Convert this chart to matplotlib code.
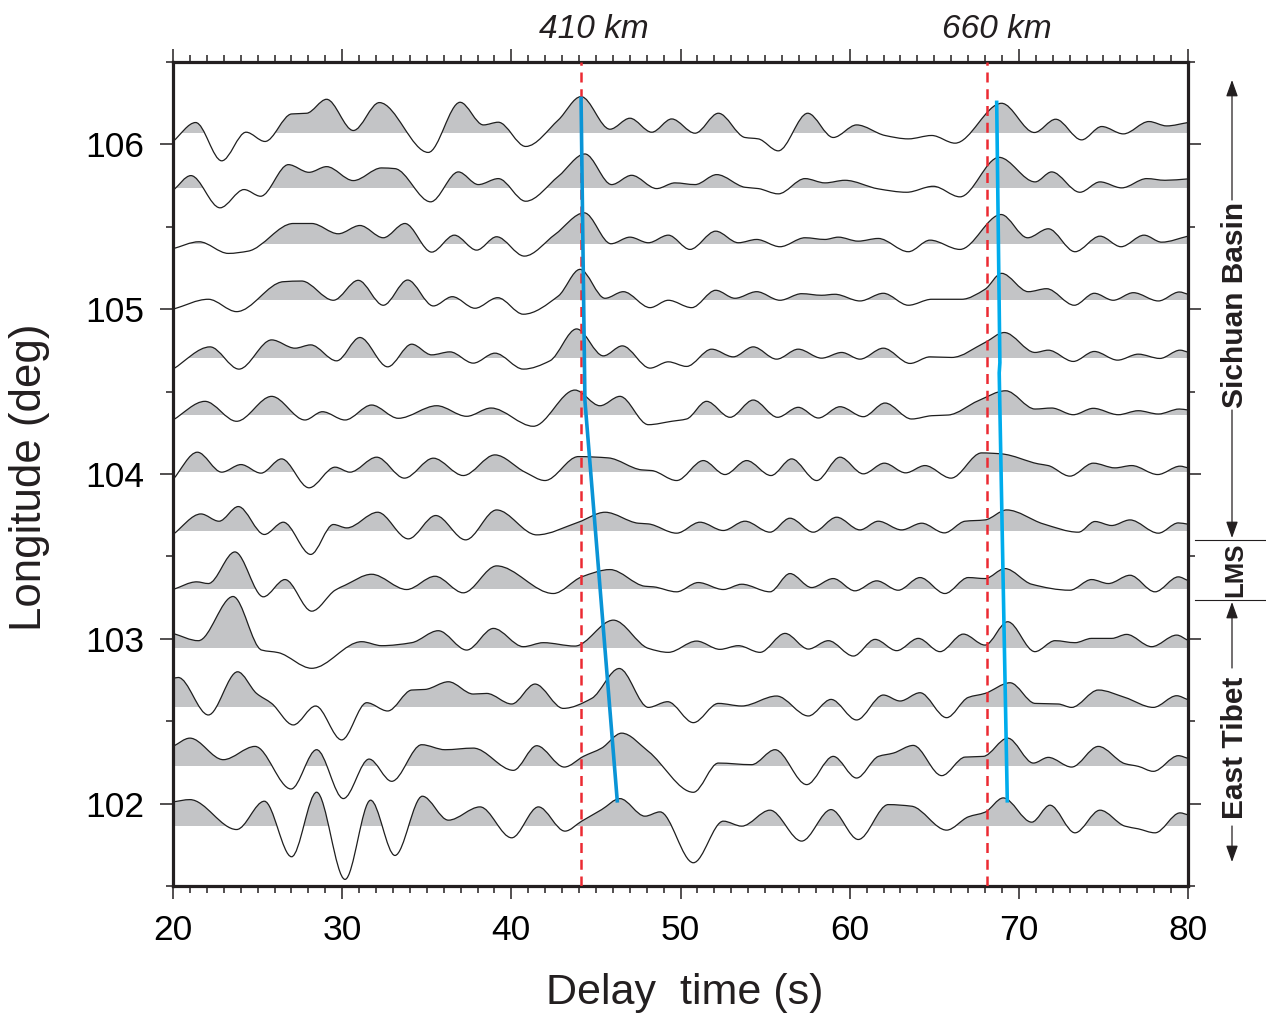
import numpy as np
import matplotlib
matplotlib.use('Agg')
import matplotlib.pyplot as plt
from matplotlib.path import Path
from matplotlib.patches import PathPatch, Rectangle
from matplotlib.lines import Line2D
from matplotlib.ticker import MultipleLocator

plt.rcParams['font.family'] = ['Liberation Sans', 'DejaVu Sans']

# zero line of every trace (longitude, deg), top to bottom
baselines = [106.068, 105.732, 105.393, 105.050, 104.703, 104.358, 104.007,
             103.653, 103.299, 102.942, 102.582, 102.226, 101.859]
amp_scale = 1 / 165.25  # amplitude units -> deg on the y axis

# (delay time s, amplitude) of the turning points
trace_1 = [(20.0, -8.3), (21.34, 10.7), (22.88, -27.7), (24.32, 1), (25.44, -8.3), (27.01, 19.3),
           (27.9, 20), (29.08, 34), (30.66, 2.7), (32.2, 30.7), (35.09, -19.3), (36.97, 31),
           (38.35, 8.3), (39.23, 11), (40.85, -13.3), (42.78, 13.3), (44.12, 36.7), (45.83, 4),
           (47.01, 15), (48.3, 1), (49.48, 14.3), (50.86, 0), (52.24, 20), (53.81, -4.3),
           (54.6, -5.7), (55.78, -17.7), (57.52, 20), (59.03, -4.3), (60.41, 8.3), (62.09, -2.3),
           (63.47, -5.7), (64.85, -2.3), (66.23, -10), (68.98, 30), (70.92, 0.7), (72.18, 14),
           (73.71, -6.7), (74.9, 6.7), (76.18, -0.7), (77.69, 11.7), (78.74, 7.3), (80.0, 10.7)]
trace_2 = [(20.0, -2), (21.06, 13), (22.78, -19.3), (24.2, -1), (25.18, -7.7), (26.82, 24),
           (28.04, 16.3), (29.08, 22), (30.66, 8), (32.33, 20.7), (33.12, 20), (35.23, -13.3),
           (36.87, 16.7), (38.05, 4), (39.23, 10), (40.85, -12.7), (42.78, 12.3), (44.35, 34.7),
           (45.93, 4), (47.11, 13.3), (48.59, 0), (49.67, 5.7), (50.86, 4), (52.14, 14),
           (53.81, 1.3), (54.6, 0), (55.78, -5.3), (57.36, 10), (58.54, 5.7), (59.72, 8.3),
           (61.69, -0.3), (63.37, -3.7), (64.94, 2.3), (66.52, -8.3), (68.83, 31.3), (70.96, 6.7),
           (71.94, 16.7), (73.61, -3.7), (74.8, 6.7), (76.08, 0.7), (77.56, 10), (78.64, 8.3),
           (80.0, 9.7)]
trace_3 = [(20.0, -4.3), (21.54, 2.7), (23.27, -9), (24.45, -6.7), (27.11, 21), (28.2, 21),
           (29.77, 10.7), (31.05, 19), (32.43, 6.7), (33.71, 21), (35.29, -7.7), (36.63, 9.3),
           (37.95, -5.7), (39.13, 7.7), (40.77, -11.7), (42.58, 10), (44.31, 31.7), (45.89, 0.7),
           (47.01, 7.3), (48.1, 1.7), (49.28, 9.3), (50.56, -5), (52.08, 13.3), (53.42, 1.7),
           (54.5, 5), (55.88, -2.3), (57.36, 6.7), (58.54, 5), (59.33, 7.3), (60.5, 3.3),
           (61.69, 6), (63.47, -7.3), (64.75, 4.3), (66.52, -5), (68.95, 30), (70.52, 6.7),
           (71.74, 15.7), (73.32, -7.3), (74.8, 8.3), (76.04, -2.3), (77.4, 9.3), (78.44, 2.3),
           (80.0, 8.3)]
trace_4 = [(20.0, -8.3), (22.09, 1.7), (23.76, -10.7), (26.52, 19.3), (27.6, 20), (29.48, 0.7),
           (30.95, 20.7), (32.43, -4.3), (33.87, 21), (35.39, -5), (36.51, 4.3), (37.85, -7.3),
           (39.19, 3.3), (40.71, -13.3), (42.78, 5), (44.06, 31.7), (45.54, 2.7), (46.62, 9.3),
           (48.2, -6.7), (49.28, 0.7), (50.66, -6.7), (52.08, 10.7), (53.22, 2.7), (54.5, 9.3),
           (55.88, 0.7), (57.16, 7.3), (58.34, 5.7), (59.13, 6.7), (60.61, 0), (61.99, 7.7),
           (63.47, -4.3), (64.85, 1.7), (66.62, 1.7), (68.0, 11.7), (68.98, 27.7), (70.56, 9.3),
           (71.64, 12.3), (73.28, -4.3), (74.46, 7.7), (75.58, 0.7), (76.77, 8.3), (78.25, 0),
           (79.49, 9), (80.0, 6.7)]
trace_5 = [(20.0, -11), (22.19, 11.3), (23.9, -11), (25.83, 18.3), (27.21, 10), (28.14, 13.3),
           (29.67, -2.7), (31.05, 20.7), (32.69, -8.7), (34.11, 14), (35.29, 3.3), (36.37, 6.3),
           (37.75, -5), (39.03, 5), (40.71, -11), (42.28, -2.7), (43.86, 29.3), (45.44, 2.3),
           (46.56, 12.3), (48.2, -10), (49.28, -3.7), (50.36, -8.3), (51.84, 9), (53.12, 1.3),
           (54.3, 11.3), (55.68, -1), (56.96, 9), (58.34, 0), (59.53, 5.7), (60.61, -1),
           (61.99, 10), (63.57, -5.3), (64.75, 1.3), (66.03, 0.7), (68.0, 15.7), (69.14, 25.7),
           (70.96, 5.7), (71.74, 8), (73.22, -3.3), (74.46, 6.7), (75.84, -2), (77.06, 4),
           (78.34, -0.3), (79.53, 8), (80.0, 6)]
trace_6 = [(20.0, -5), (21.89, 13.7), (23.76, -6.3), (25.83, 18.7), (27.8, -5), (28.83, 3.3),
           (30.17, -5), (31.74, 10), (33.32, -3.3), (35.59, 9.3), (37.36, -1.3), (38.8, 7),
           (41.3, -11.3), (43.76, 25), (45.24, 9.3), (46.42, 18.7), (48.1, -9.7), (49.48, -6.3),
           (50.36, -4), (51.54, 13.7), (52.93, -2.3), (54.3, 15), (55.74, -2.3), (56.96, 7.7),
           (58.15, -3), (59.43, 8.3), (60.81, -1.7), (62.09, 12), (63.66, -4), (64.85, -0.7),
           (65.83, 0), (67.6, 14.3), (69.22, 24.3), (70.96, 6), (71.94, 7), (73.22, 0.3),
           (74.4, 6.7), (75.88, 0.3), (77.06, 4.3), (78.25, 1), (79.49, 6), (80.0, 5)]
trace_7 = [(20.0, -6.7), (21.44, 20.7), (22.88, 0.7), (24.02, 8.3), (25.2, -0.3), (26.42, 14),
           (28.04, -15), (29.58, 5.7), (30.46, 0.7), (32.04, 15.7), (33.68, -5.3), (35.39, 14.7),
           (37.16, -2.7), (39.03, 18), (40.81, 0.7), (41.99, -7.7), (43.96, 16.3), (45.73, 15),
           (47.7, 3), (48.3, 2.3), (49.77, -7.7), (51.35, 12.3), (52.63, -1.7), (53.91, 12.3),
           (55.35, -2.7), (56.57, 14), (58.05, -7.7), (59.43, 15.7), (60.81, -1), (62.05, 9.7),
           (63.31, 0), (64.45, 7.3), (65.99, -5.3), (67.8, 20), (68.98, 19), (71.15, 9),
           (71.74, 7.3), (73.02, -3.3), (74.4, 9.7), (75.68, 5), (76.67, 7.3), (78.21, -1.7),
           (79.53, 6.7), (80.0, 5)]
trace_8 = [(20.0, -3.3), (21.65, 17.3), (22.72, 10), (23.86, 24.7), (25.4, -3.3), (26.52, 9),
           (28.14, -23.3), (29.48, 6.7), (30.27, 3.3), (32.1, 19), (33.91, -7.7), (35.53, 15.7),
           (37.3, -8.7), (39.13, 21.3), (41.5, -3.7), (43.96, 9), (45.54, 19), (47.5, 8),
           (48.1, 7.3), (49.77, -2), (51.15, 9), (52.53, 0.7), (53.81, 10), (55.29, -1),
           (56.47, 13), (57.85, -1), (59.23, 14), (60.61, 1.3), (61.69, 10), (63.07, 1.3),
           (64.26, 8), (65.6, -1.7), (66.82, 10), (68.0, 11.3), (69.28, 21.3), (71.45, 7.3),
           (73.52, -1), (74.5, 9.7), (75.49, 5.7), (76.57, 11.3), (78.25, -2), (79.43, 8.3),
           (80.0, 7)]
trace_9 = [(20.0, 0), (21.4, 7.7), (22.09, 6), (23.66, 37.7), (25.34, -7.3), (26.62, 10),
           (28.2, -21.7), (29.58, -0.7), (30.17, 4.3), (31.74, 15.3), (33.81, 0), (35.49, 13.3),
           (37.16, -3.3), (39.13, 23.7), (42.48, -4), (44.16, 12.7), (45.83, 20), (47.9, 3.3),
           (48.4, 2.7), (49.77, -2.3), (51.05, 7), (52.53, 0), (53.62, 5.3), (55.29, -2.3),
           (56.47, 16), (57.75, 2), (59.03, 11), (60.31, -1.3), (61.6, 8.7), (62.87, -0.7),
           (64.16, 12), (65.63, -4), (67.01, 12), (68.0, 11), (69.18, 21), (70.76, 5.3),
           (73.02, -0.7), (74.3, 10), (75.29, 6), (76.57, 14.3), (78.05, -2.3), (79.43, 12.7),
           (80.0, 9)]
trace_10 = [(20.0, 15), (21.5, 7.7), (23.55, 52), (25.24, -1.7), (26.23, -4.3), (28.2, -20),
            (31.15, 6.7), (32.33, 2.7), (34.11, 5.7), (35.68, 17.7), (37.36, -1.7), (38.94, 20),
            (40.71, 1.7), (41.89, 5.7), (43.76, 2.3), (46.03, 28.3), (48.1, 0), (49.28, -4),
            (50.95, 7.3), (52.33, -1), (53.42, 2.7), (54.7, -4), (56.18, 15), (57.56, -0.7),
            (58.74, 7.7), (60.22, -7.7), (61.5, 9), (62.78, -2.3), (64.06, 10), (65.34, -3.3),
            (66.72, 14.3), (68.0, 3.3), (69.34, 26.7), (70.95, -3.3), (72.14, 7.7), (73.32, 5.7),
            (74.3, 10), (75.49, 10), (76.37, 14), (77.85, 1.7), (79.33, 13.3), (80.0, 8)]
trace_11 = [(20.0, 29.3), (20.31, 30.3), (22.09, -7.3), (23.82, 36), (24.94, 14.3), (25.83, 4.3),
            (27.11, -17.3), (28.43, 1.7), (29.97, -32.3), (31.45, 5), (32.69, -3.3), (34.11, 17.7),
            (34.9, 18.3), (36.28, 26), (37.75, 13.7), (38.54, 14.3), (40.02, 3.7), (41.4, 23.7),
            (43.07, -0.7), (44.75, 9.3), (46.38, 39.3), (48.1, 0.3), (49.24, 6), (50.76, -15),
            (52.24, 4.3), (53.62, 1.7), (55.68, 11.7), (57.56, -8.3), (58.9, 8.3), (60.41, -12.3),
            (61.99, 12.7), (62.98, 6.7), (64.16, 15), (65.73, -10), (67.01, 10.3), (68.0, 14.3),
            (69.48, 25), (70.96, 4.3), (72.33, 3.7), (73.12, 0.3), (74.7, 17.7), (76.27, 10.3),
            (77.95, 0.3), (79.33, 12), (80.0, 8)]
trace_12 = [(20.0, 20), (21.0, 28.3), (22.97, 6.7), (24.85, 20), (26.98, -22.7), (28.49, 16.7),
            (30.07, -32.3), (31.59, 7.3), (32.93, -15), (34.7, 21.7), (36.08, 16.7), (37.75, 18.3),
            (40.12, -4), (41.5, 20.7), (43.13, -0.7), (44.26, 10), (45.34, 18.3), (46.52, 33.3),
            (48.1, 15), (50.76, -26), (52.24, 3.3), (54.2, 1.7), (55.59, 16.7), (57.46, -18.3),
            (59.03, 10), (60.41, -11.7), (61.7, 10), (62.58, 13.3), (63.76, 21), (65.44, -9.3),
            (66.82, 9.3), (67.9, 10), (69.34, 28.3), (70.86, 3.3), (71.74, 9), (73.12, -0.7),
            (74.7, 20), (76.27, 2.7), (77.06, 0), (77.95, -5), (79.43, 10.7), (80.0, 8)]
trace_13 = [(20.0, 25), (21.0, 27.3), (23.76, -2.7), (25.4, 25.7), (27.01, -30), (28.49, 34.7),
            (30.17, -52.7), (31.68, 26.7), (33.12, -28.7), (34.74, 30.7), (36.28, 6.7), (38.15, 20),
            (40.02, -11), (41.6, 20), (43.17, -4.3), (44.16, 5.7), (45.34, 17.3), (46.42, 28.3),
            (47.9, 10.7), (48.79, 15), (50.76, -36), (52.53, 5.7), (53.62, 0.7), (55.29, 16.7),
            (57.16, -14.3), (58.9, 17.3), (60.51, -12.7), (62.28, 22.3), (63.66, 20.7), (65.73, -3.3),
            (67.01, 10), (68.0, 14.7), (69.08, 29), (70.76, 4.7), (71.84, 21.7), (73.32, -6),
            (74.8, 16.7), (76.27, 0.7), (77.06, -2), (78.05, -6), (79.53, 14), (80.0, 12)]
traces = [trace_1, trace_2, trace_3, trace_4, trace_5, trace_6, trace_7,
          trace_8, trace_9, trace_10, trace_11, trace_12, trace_13]

# picked phases: (time, longitude) vertices of the two blue lines
pick_410 = [(44.12, 106.290), (44.35, 104.445), (46.27, 102.006)]
pick_660 = [(68.69, 106.266), (68.88, 104.675), (68.84, 104.614), (69.32, 102.006)]
# theoretical arrivals (red dashed) and their labels
ref_times = [44.1, 68.1]
ref_labels = ['410 km', '660 km']
ref_label_x = [44.89, 68.71]

fill_col = '#c3c4c6'


def slopes(t, y):
    # monotone (Fritsch-Carlson) tangents so the curve stays smooth through the read points
    h = np.diff(t)
    d = np.diff(y) / h
    m = np.zeros_like(y)
    m[0] = d[0]
    m[-1] = d[-1]
    for k in range(1, len(y) - 1):
        if d[k - 1] * d[k] > 0:
            w1 = 2 * h[k] + h[k - 1]
            w2 = h[k] + 2 * h[k - 1]
            m[k] = (w1 + w2) / (w1 / d[k - 1] + w2 / d[k])
    return m


def trace_curve(pts, base):
    t = np.array([p[0] for p in pts])
    y = base + np.array([p[1] for p in pts]) * amp_scale
    m = slopes(t, y)
    verts = [(t[0], y[0])]
    codes = [Path.MOVETO]
    for i in range(len(t) - 1):
        h = t[i + 1] - t[i]
        verts += [(t[i] + h / 3, y[i] + m[i] * h / 3),
                  (t[i + 1] - h / 3, y[i + 1] - m[i + 1] * h / 3),
                  (t[i + 1], y[i + 1])]
        codes += [Path.CURVE4] * 3
    return verts, codes


fig = plt.figure(figsize=(12.66, 10.18), dpi=100)
ax = fig.add_axes([173 / 1266, 1 - 886 / 1018, 1015 / 1266, 824 / 1018])

for pts, base in zip(traces, baselines):
    verts, codes = trace_curve(pts, base)
    # positive lobes shaded grey
    fv = [(verts[0][0], base)] + verts + [(verts[-1][0], base), (verts[0][0], base)]
    fc = [Path.MOVETO, Path.LINETO] + codes[1:] + [Path.LINETO, Path.CLOSEPOLY]
    shade = PathPatch(Path(fv, fc), facecolor=fill_col, edgecolor='none', zorder=1)
    ax.add_patch(shade)
    clip = Rectangle((20, base + 0.003), 60, 3, transform=ax.transData)
    shade.set_clip_path(clip)
    ax.add_patch(PathPatch(Path(verts, codes), fill=False, edgecolor='#1e1e1e',
                           lw=0.9, zorder=2))

for tr in ref_times:
    ax.axvline(tr, color='#ec2a32', lw=1.8, dashes=(4, 2.7), zorder=3)

ax.plot([p[0] for p in pick_410], [p[1] for p in pick_410], color='#0a94d6',
        lw=2.6, solid_capstyle='butt', zorder=4)
ax.plot([p[0] for p in pick_660], [p[1] for p in pick_660], color='#00acec',
        lw=2.6, solid_capstyle='butt', zorder=4)

for lab, xl in zip(ref_labels, ref_label_x):
    ax.text(xl, 1.039, lab, transform=ax.get_xaxis_transform(), fontsize=24,
            style='italic', ha='center', va='center', color='#231f20')

ax.set_xlim(20, 80)
ax.set_ylim(101.5, 106.5)
ax.set_xticks(range(20, 81, 10))
ax.set_yticks([102, 103, 104, 105, 106])
ax.xaxis.set_minor_locator(MultipleLocator(1))
ax.yaxis.set_minor_locator(MultipleLocator(0.5))
ax.tick_params(which='both', direction='out', top=True, right=True,
               labeltop=False, labelright=False, width=1.1, color='#231f20')
ax.tick_params(which='major', length=9.5, labelsize=25.5)
ax.tick_params(which='minor', length=5)
ax.tick_params(axis='x', which='major', pad=11)
ax.tick_params(axis='y', which='major', pad=11)
for s in ax.spines.values():
    s.set_linewidth(2.3)
    s.set_color('#231f20')

fig.text(685 / 1266, 1 - 993 / 1018, 'Delay  time (s)', fontsize=31,
         ha='center', va='center', color='#231f20')
fig.text(30 / 1266, 1 - 477 / 1018, 'Longitude (deg)', fontsize=31.5, rotation=90,
         ha='center', va='center', color='#231f20')

# region annotations to the right of the frame (figure pixels from the top)
H = 1018
arrow_x = 1232
arrows = [(80, 200), (538, 410), (602, 668), (862, 826)]  # (tip, tail)
for tip, tail in arrows:
    ax.annotate('', xy=(arrow_x, H - tip), xytext=(arrow_x, H - tail),
                xycoords='figure pixels', textcoords='figure pixels',
                arrowprops=dict(arrowstyle='-|>,head_length=1.0,head_width=0.36',
                                color='#231f20', lw=0.9, shrinkA=0, shrinkB=0,
                                mutation_scale=10))
for yl in [540, 600]:
    fig.add_artist(Line2D([1195 / 1266, 1265 / 1266], [1 - yl / H, 1 - yl / H],
                          color='#231f20', lw=0.8))
regions = [('Sichuan Basin', 305, 21.5), ('LMS', 570, 18.5), ('East Tibet', 748, 21.5)]
for name, yc, fs in regions:
    fig.text(1235 / 1266, 1 - yc / H, name, rotation=90, fontsize=fs, fontweight='bold',
             ha='center', va='center', color='#231f20')

fig.savefig('out.png', dpi=100)
